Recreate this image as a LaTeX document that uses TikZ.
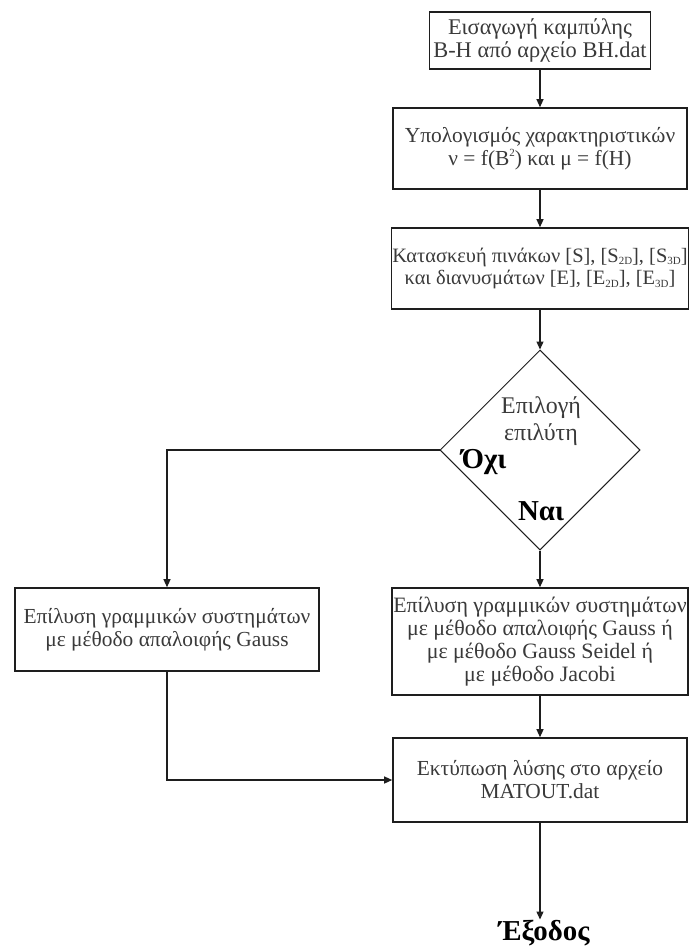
\documentclass[tikz,border=0pt]{standalone}
\usepackage{fontspec}
\setmainfont{Liberation Serif}
\usetikzlibrary{arrows.meta,shapes.geometric,positioning}
\definecolor{fcInk}{HTML}{1E1E1E}
\definecolor{fcText}{HTML}{3A3A3A}
\tikzset{
 chart/.style={font=\fontsize{21.5}{23}\selectfont,line join=miter,text=fcText},
 procbox/.style={rectangle,draw=fcInk,line width=1.6pt,fill=white,align=center,inner sep=1pt},
 decision/.style={diamond,aspect=1,draw=fcInk,line width=1pt,inner sep=0pt,minimum width=200bp,minimum height=200bp},
 plain/.style={align=center,inner sep=1pt},
 answer/.style={font=\fontsize{29}{31}\selectfont\bfseries,text=black,inner sep=0pt},
 flow/.style={draw=fcInk,line width=1.2pt,-{Triangle[length=8pt,width=7pt]}}
}
\newcommand{\lowidx}[1]{\raisebox{-.25ex}{\fontsize{11}{11}\selectfont #1}}
\newcommand{\highidx}[1]{\raisebox{.9ex}{\fontsize{11}{11}\selectfont #1}}

\begin{document}
\begin{tikzpicture}[chart,x=1bp,y=-1bp]
 \useasboundingbox (0,0) rectangle (689,950);
 % main column
 \node[procbox,minimum width=221bp,minimum height=57bp,font=\fontsize{22.5}{23}\selectfont] (intro) at (540,40.5)
  {Εισαγωγή καμπύλης\\B-H από αρχείο BH.dat};
 \node[procbox,minimum width=294bp,minimum height=81bp] (chars) at (540,148.5)
  {Υπολογισμός χαρακτηριστικών\\ν = f(B\highidx{2}) και μ = f(H)};
 \node[procbox,minimum width=294bp,minimum height=81bp,font=\fontsize{20.5}{23}\selectfont] (build) at (540,268.5)
  {Κατασκευή πινάκων [S], [S\lowidx{2D}], [S\lowidx{3D}]\\και διανυσμάτων [E], [E\lowidx{2D}], [E\lowidx{3D}]};
 \node[decision] (choice) at (540,450) {};
 \node[plain,font=\fontsize{24}{27}\selectfont] (choicetxt) at (541,421) {Επιλογή\\επιλύτη};
 \node[answer] (no) at (484,462) {Όχι};
 \node[answer] (yes) at (541,511) {Ναι};
 % two solvers
 \node[procbox,minimum width=304bp,minimum height=83bp] (gauss) at (167,629.5)
  {Επίλυση γραμμικών συστημάτων\\με μέθοδο απαλοιφής Gauss};
 \node[procbox,minimum width=294bp,minimum height=107bp,font=\fontsize{22}{23.3}\selectfont] (solver) at (540,641.5)
  {Επίλυση γραμμικών συστημάτων\\με μέθοδο απαλοιφής Gauss ή\\με μέθοδο Gauss Seidel ή\\με μέθοδο Jacobi};
 \node[procbox,minimum width=294bp,minimum height=84bp] (print) at (540,780)
  {Εκτύπωση λύσης στο αρχείο\\MATOUT.dat};
 \node[answer,anchor=base,font=\fontsize{29}{31}\selectfont\bfseries] (exit) at (544,940) {Έξοδος};
 % connectors
 \draw[flow] (intro) -- (chars);
 \draw[flow] (chars) -- (build);
 \draw[flow] (build) -- (choice);
 \draw[flow] (choice.west) -| (gauss.north);
 \draw[flow] (choice.south) -- (solver.north);
 \draw[flow] (solver) -- (print);
 \draw[flow] (gauss.south) |- (print.west);
 \draw[flow] (print.south) -- (print.south |- exit.north);
\end{tikzpicture}
\end{document}
